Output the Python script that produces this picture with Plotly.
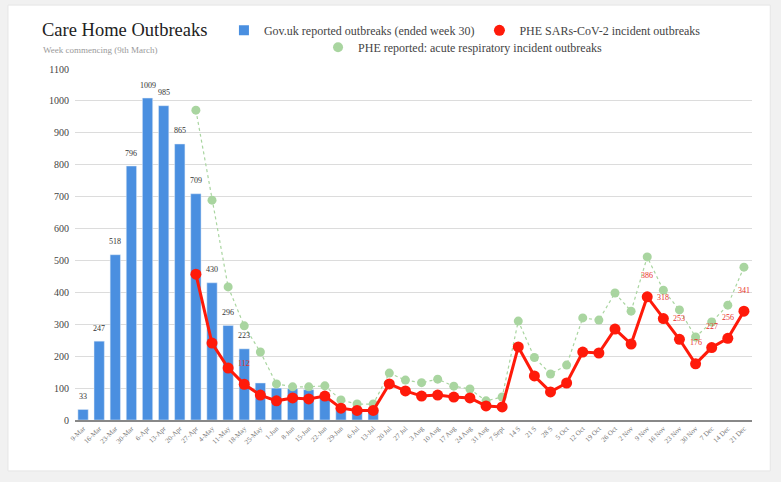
import plotly.graph_objects as go

weeks = ["9-Mar", "16-Mar", "23-Mar", "30-Mar", "6-Apr", "13-Apr", "20-Apr", "27-Apr",
         "4-May", "11-May", "18-May", "25-May", "1-Jun", "8-Jun", "15-Jun", "22-Jun",
         "29-Jun", "6-Jul", "13-Jul", "20 Jul", "27 Jul", "3 Aug", "10 Aug", "17 Aug",
         "24 Aug", "31 Aug", "7 Sept", "14 S", "21 S", "28 S", "5 Oct", "12 Oct",
         "19 Oct", "26 Oct", "2 Nov", "9 Nov", "16 Nov", "23 Nov", "30 Nov", "7 Dec",
         "14 Dec", "21 Dec"]

# Gov.uk weekly outbreaks, 9 Mar - 13 Jul
govuk = [33, 247, 518, 796, 1009, 985, 865, 709, 430, 296, 223,
         116, 100, 98, 95, 72, 32, 27, 32]
govuk_labelled = 11  # first bars carry value labels

# PHE series, 27 Apr - 21 Dec
phe_start = 7
phe_sars = [457, 241, 163, 112, 78, 60, 69, 66, 75, 37, 30, 30, 113, 91, 75, 78,
            72, 69, 44, 41, 229, 138, 88, 116, 213, 210, 285, 238, 386, 318, 253,
            176, 227, 256, 341]
phe_acute = [971, 689, 417, 295, 213, 113, 104, 104, 107, 63, 50, 50, 147, 125, 117,
             128, 106, 97, 60, 72, 310, 196, 144, 172, 320, 313, 398, 341, 511, 407,
             345, 260, 307, 360, 479]
sars_labelled = [3, 28, 29, 30, 31, 32, 33, 34]  # indices into phe_sars

BLUE = "#4a8fe0"
RED = "#ff1a0a"
GREEN = "#a9d5a0"
SERIF = "Liberation Serif, Times New Roman, serif"

gov_x = weeks[:len(govuk)]
phe_x = weeks[phe_start:phe_start + len(phe_sars)]

fig = go.Figure()
fig.add_trace(go.Bar(x=gov_x, y=govuk, marker_color=BLUE, showlegend=False))
fig.add_trace(go.Scatter(x=phe_x, y=phe_acute, mode="lines+markers",
                         line=dict(color=GREEN, width=1.2, dash="dot"),
                         marker=dict(color=GREEN, size=9), showlegend=False))
fig.add_trace(go.Scatter(x=phe_x, y=phe_sars, mode="lines+markers",
                         line=dict(color=RED, width=3),
                         marker=dict(color=RED, size=11), showlegend=False))

# legend entries
fig.add_trace(go.Scatter(x=[None], y=[None], mode="markers", name="Gov.uk reported outbreaks (ended week 30)",
                         marker=dict(color=BLUE, size=10, symbol="square"), legend="legend"))
fig.add_trace(go.Scatter(x=[None], y=[None], mode="markers", name="PHE SARs-CoV-2 incident outbreaks",
                         marker=dict(color=RED, size=11), legend="legend"))
fig.add_trace(go.Scatter(x=[None], y=[None], mode="markers", name="PHE reported: acute respiratory incident outbreaks",
                         marker=dict(color=GREEN, size=10), legend="legend2"))

annotations = []
for i in range(govuk_labelled):
    annotations.append(dict(x=gov_x[i], y=govuk[i], text=str(govuk[i]), showarrow=False,
                            yshift=13, font=dict(family=SERIF, size=8, color="#333")))
for i in sars_labelled:
    annotations.append(dict(x=phe_x[i], y=phe_sars[i], text=str(phe_sars[i]), showarrow=False,
                            yshift=21, font=dict(family=SERIF, size=8, color="#e8302a")))

annotations.append(dict(xref="paper", yref="paper", x=-0.052, y=1.111, xanchor="left", yanchor="middle",
                        text="Care Home Outbreaks", showarrow=False,
                        font=dict(family=SERIF, size=18.5, color="#222")))
annotations.append(dict(xref="paper", yref="paper", x=-0.05, y=1.055, xanchor="left", yanchor="middle",
                        text="Week commencing (9th March)", showarrow=False,
                        font=dict(family=SERIF, size=9, color="#9a9a9a")))

fig.update_layout(
    width=781, height=482,
    margin=dict(l=75, r=29, t=69, b=62, autoexpand=False),
    paper_bgcolor="#f1f1f1",
    plot_bgcolor="white",
    bargap=0.36,
    font=dict(family=SERIF, color="#444"),
    annotations=annotations,
    shapes=[dict(type="rect", xref="paper", yref="paper", layer="below",
                 x0=-0.099, x1=1.027, y0=-0.145, y1=1.182,
                 fillcolor="white", line=dict(color="#e6e6e6", width=1))],
    legend=dict(orientation="h", x=0.22, y=0.937, xref="paper", yref="container",
                xanchor="left", yanchor="middle",
                font=dict(family=SERIF, size=12, color="#444"), bgcolor="rgba(0,0,0,0)",
                itemwidth=30),
    legend2=dict(orientation="h", x=0.359, y=0.902, xref="paper", yref="container",
                 xanchor="left", yanchor="middle",
                 font=dict(family=SERIF, size=12, color="#444"), bgcolor="rgba(0,0,0,0)",
                 itemwidth=30),
    xaxis=dict(type="category", categoryorder="array", categoryarray=weeks,
               tickangle=-45, tickfont=dict(family=SERIF, size=7, color="#777"),
               showgrid=False, showline=True, linecolor="#888", linewidth=1.5,
               ticks="", range=[-0.5, len(weeks) - 0.5]),
    yaxis=dict(range=[0, 1100], dtick=100, tickfont=dict(family=SERIF, size=10, color="#444"),
               gridcolor="#dcdcdc", gridwidth=1, zeroline=False, ticks="", showline=False,
               ticklabelstandoff=5),
)

fig.write_html("out.html")
